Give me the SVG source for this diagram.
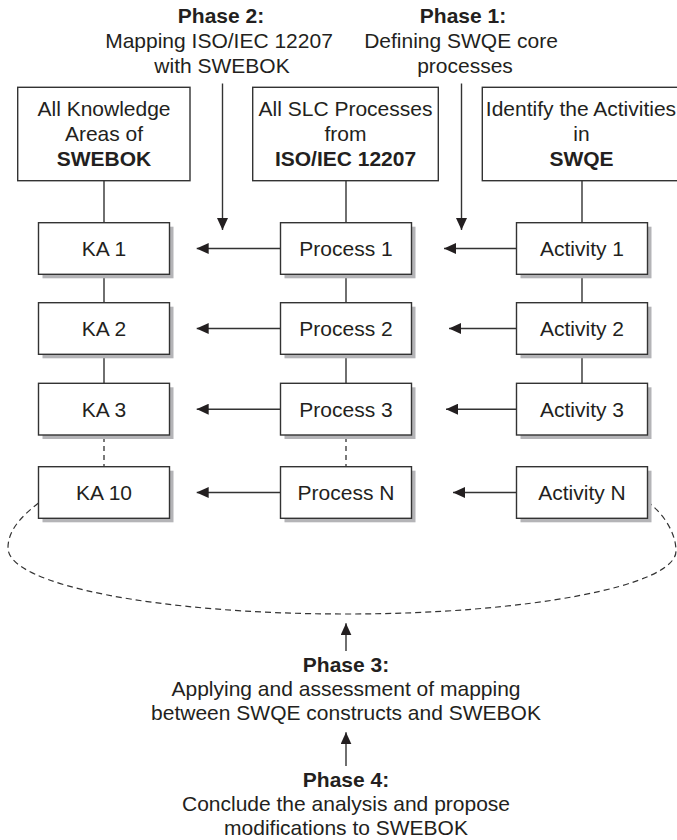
<svg xmlns="http://www.w3.org/2000/svg" width="677" height="840" viewBox="0 0 677 840">
<style>
text{font-family:"Liberation Sans",Arial,sans-serif;font-size:21px;fill:#231f20;text-anchor:middle}
.b{font-weight:bold}
.box{fill:#fff;stroke:#333;stroke-width:1.4}
.sh{fill:#b4b4b7}
.ln{stroke:#333;stroke-width:1.4;fill:none}
.ar{stroke:#333;stroke-width:1.4;fill:none;marker-end:url(#ah)}
.dl{stroke:#333;stroke-width:1.3;fill:none;stroke-dasharray:5 4}
.el{stroke:#333;stroke-width:1.2;fill:none;stroke-dasharray:6 4}
</style>
<defs>
<marker id="ah" viewBox="0 0 12 11" refX="12" refY="5.5" markerWidth="12" markerHeight="11" markerUnits="userSpaceOnUse" orient="auto">
<path d="M0,0 L12,5.5 L0,11 z" fill="#231f20"/>
</marker>
</defs>
<rect width="677" height="840" fill="#fff"/>

<g id="connectors">
<line class="ln" x1="104" y1="180.7" x2="104" y2="222.7"/>
<line class="ln" x1="346" y1="180.7" x2="346" y2="222.7"/>
<line class="ln" x1="582" y1="180.7" x2="582" y2="222.7"/>
<line class="ln" x1="104" y1="274.3" x2="104" y2="302.7"/>
<line class="ln" x1="346" y1="274.3" x2="346" y2="302.7"/>
<line class="ln" x1="582" y1="274.3" x2="582" y2="302.7"/>
<line class="ln" x1="104" y1="354.3" x2="104" y2="383.3"/>
<line class="ln" x1="346" y1="354.3" x2="346" y2="383.3"/>
<line class="ln" x1="582" y1="354.3" x2="582" y2="383.3"/>
<line class="dl" x1="104" y1="437" x2="104" y2="466.7"/>
<line class="dl" x1="346" y1="437" x2="346" y2="466.7"/>
<line class="ar" x1="222.5" y1="83.5" x2="222.5" y2="230"/>
<line class="ar" x1="461.5" y1="83.5" x2="461.5" y2="230"/>
<line class="ar" x1="280.5" y1="248.5" x2="196.7" y2="248.5"/>
<line class="ar" x1="280.5" y1="328.5" x2="196.7" y2="328.5"/>
<line class="ar" x1="280.5" y1="409.2" x2="196.7" y2="409.2"/>
<line class="ar" x1="280.5" y1="492.5" x2="196.7" y2="492.5"/>
<line class="ar" x1="516.5" y1="248.5" x2="444" y2="248.5"/>
<line class="ar" x1="516.5" y1="328.5" x2="449" y2="328.5"/>
<line class="ar" x1="516.5" y1="409.2" x2="446" y2="409.2"/>
<line class="ar" x1="516.5" y1="492.5" x2="453" y2="492.5"/>
<path class="el" d="M38.5,503 C18.5,518.5 8,532 8,548 C8,585 159,614 346,614 C528,614 676,586 676,551 C676,535 666,516 648,502"/>
<line class="ar" x1="346" y1="651" x2="346" y2="623.3"/>
<line class="ar" x1="346" y1="766" x2="346" y2="732.3"/>
</g>

<g id="phase2">
<text class="b" x="221" y="22.5">Phase 2:</text>
<text x="219" y="47.5">Mapping ISO/IEC 12207</text>
<text x="222" y="72.5">with SWEBOK</text>
</g>
<g id="phase1">
<text class="b" x="463" y="22.5">Phase 1:</text>
<text x="461" y="47.5">Defining SWQE core</text>
<text x="465" y="72.5">processes</text>
</g>

<g id="top-swebok">
<rect class="box" x="17.7" y="87.3" width="172.3" height="93.4"/>
<text x="104" y="115.5">All Knowledge</text>
<text x="104" y="140.5">Areas of</text>
<text class="b" x="104" y="165.5">SWEBOK</text>
</g>
<g id="top-iso">
<rect class="box" x="252.7" y="87.3" width="185.6" height="93.4"/>
<text x="345.5" y="115.5">All SLC Processes</text>
<text x="345.5" y="140.5">from</text>
<text class="b" x="345.5" y="165.5">ISO/IEC 12207</text>
</g>
<g id="top-swqe">
<rect class="box" x="482.3" y="87.3" width="200" height="93.4"/>
<text x="581" y="115.5">Identify the Activities</text>
<text x="581.5" y="140.5">in</text>
<text class="b" x="581.5" y="165.5">SWQE</text>
</g>

<g id="ka1"><rect class="sh" x="42.5" y="226.7" width="131" height="51.6"/><rect class="box" x="38.5" y="222.7" width="131" height="51.6"/><text x="104" y="256">KA 1</text></g>
<g id="ka2"><rect class="sh" x="42.5" y="306.7" width="131" height="51.6"/><rect class="box" x="38.5" y="302.7" width="131" height="51.6"/><text x="104" y="336">KA 2</text></g>
<g id="ka3"><rect class="sh" x="42.5" y="387.3" width="131" height="51.7"/><rect class="box" x="38.5" y="383.3" width="131" height="51.7"/><text x="104" y="416.7">KA 3</text></g>
<g id="ka10"><rect class="sh" x="42.5" y="470.7" width="131" height="51.6"/><rect class="box" x="38.5" y="466.7" width="131" height="51.6"/><text x="104" y="500">KA 10</text></g>

<g id="p1"><rect class="sh" x="284.5" y="226.7" width="131" height="51.6"/><rect class="box" x="280.5" y="222.7" width="131" height="51.6"/><text x="346" y="256">Process 1</text></g>
<g id="p2"><rect class="sh" x="284.5" y="306.7" width="131" height="51.6"/><rect class="box" x="280.5" y="302.7" width="131" height="51.6"/><text x="346" y="336">Process 2</text></g>
<g id="p3"><rect class="sh" x="284.5" y="387.3" width="131" height="51.7"/><rect class="box" x="280.5" y="383.3" width="131" height="51.7"/><text x="346" y="416.7">Process 3</text></g>
<g id="pN"><rect class="sh" x="284.5" y="470.7" width="131" height="51.6"/><rect class="box" x="280.5" y="466.7" width="131" height="51.6"/><text x="346" y="500">Process N</text></g>

<g id="a1"><rect class="sh" x="520.5" y="226.7" width="131" height="51.6"/><rect class="box" x="516.5" y="222.7" width="131" height="51.6"/><text x="582" y="256">Activity 1</text></g>
<g id="a2"><rect class="sh" x="520.5" y="306.7" width="131" height="51.6"/><rect class="box" x="516.5" y="302.7" width="131" height="51.6"/><text x="582" y="336">Activity 2</text></g>
<g id="a3"><rect class="sh" x="520.5" y="387.3" width="131" height="51.7"/><rect class="box" x="516.5" y="383.3" width="131" height="51.7"/><text x="582" y="416.7">Activity 3</text></g>
<g id="aN"><rect class="sh" x="520.5" y="470.7" width="131" height="51.6"/><rect class="box" x="516.5" y="466.7" width="131" height="51.6"/><text x="582" y="500">Activity N</text></g>

<g id="phase3">
<text class="b" x="346" y="671.7">Phase 3:</text>
<text x="346" y="695.5">Applying and assessment of mapping</text>
<text x="346" y="720">between SWQE constructs and SWEBOK</text>
</g>
<g id="phase4">
<text class="b" x="346" y="786.5">Phase 4:</text>
<text x="346" y="810.5">Conclude the analysis and propose</text>
<text x="346" y="835">modifications to SWEBOK</text>
</g>
</svg>
